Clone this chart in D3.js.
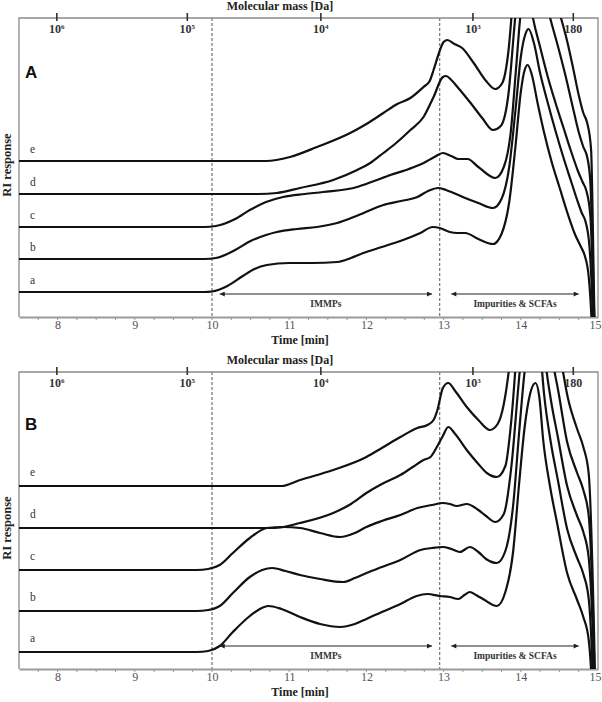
<!DOCTYPE html>
<html><head><meta charset="utf-8">
<script src="https://cdn.jsdelivr.net/npm/d3@7"></script>
<style>body{margin:0;background:#fff}svg{display:block}</style>
</head><body>
<script>
// ---------- DATA ----------
const timeTicks = [8, 9, 10, 11, 12, 13, 14, 15];
const massLabels = ["10|6", "10|5", "10|4", "10|3", "180"];
const massLog = [6, 5, 4, 3, 2.255];
const massTime = [7.99, 9.68, 11.41, 13.38, 14.68]; // elution time of each mass (calibration)
const curveNames = ["a", "b", "c", "d", "e"];
const dashedTimes = [10.0, 12.95];
const regionLabels = ["IMMPs", "Impurities & SCFAs"];
const regionFrom = [10.1, 13.1];
const regionTo = [12.85, 14.75];

// Panel A: RI response (arbitrary units) above each curve's own baseline
const offsetsA = [25, 58, 90, 123, 156];
const A_a = [[7.5,0],[9.9,0],[10.0,0.5],[10.2,6],[10.4,16],[10.55,23],[10.71,27],[11.0,29],[11.3,29],[11.62,30],[11.8,34],[11.96,39],[12.2,45],[12.44,51],[12.7,59],[12.86,65],[12.95,64],[13.08,60],[13.18,59],[13.28,59],[13.45,53],[13.64,48],[13.75,58],[13.85,90],[13.93,145],[14.0,200],[14.05,222],[14.09,227],[14.14,218],[14.22,188],[14.3,160],[14.4,130],[14.5,105],[14.6,80],[14.7,58],[14.78,45],[14.83,36],[14.88,15],[14.93,-60],[14.96,-200]];
const A_b = [[7.5,0],[9.9,0],[10.05,1],[10.3,9],[10.5,18],[10.7,24],[10.84,27],[11.1,30],[11.36,32],[11.62,36],[11.9,44],[12.22,54],[12.45,58],[12.66,62],[12.8,68],[12.93,71],[13.03,69],[13.13,66],[13.28,61],[13.45,56],[13.64,51],[13.75,60],[13.85,92],[13.93,148],[14.0,202],[14.06,225],[14.1,230],[14.17,216],[14.25,186],[14.35,156],[14.45,128],[14.55,102],[14.65,78],[14.73,59],[14.79,46],[14.84,37],[14.89,12],[14.94,-80],[14.97,-200]];
const A_c = [[7.5,0],[9.9,0],[10.05,1],[10.3,8],[10.49,17],[10.7,25],[10.92,30],[11.2,33],[11.44,35],[11.88,40],[12.1,46],[12.31,52],[12.55,58],[12.74,64],[12.88,70],[12.99,74],[13.1,71],[13.19,68],[13.31,68],[13.45,60],[13.67,49],[13.78,60],[13.87,95],[13.94,160],[14.0,215],[14.06,237],[14.1,236],[14.15,212],[14.25,180],[14.35,150],[14.45,124],[14.55,100],[14.65,76],[14.74,56],[14.8,45],[14.85,36],[14.9,12],[14.95,-100],[14.98,-200]];
const A_d = [[7.5,0],[10.6,0],[10.84,1],[11.14,6],[11.57,14],[11.88,24],[12.05,31],[12.22,41],[12.4,52],[12.57,64],[12.74,77],[12.87,97],[12.99,117],[13.03,118],[13.1,114],[13.19,106],[13.35,91],[13.5,76],[13.64,64],[13.74,68],[13.84,100],[13.92,170],[14.0,235],[14.07,262],[14.12,258],[14.2,232],[14.3,200],[14.38,176],[14.48,148],[14.58,118],[14.67,88],[14.75,62],[14.81,47],[14.86,37],[14.9,13],[14.95,-120],[14.98,-220]];
const A_e = [[7.5,0],[10.7,0],[11.01,4],[11.36,14],[11.79,28],[12.0,37],[12.22,48],[12.4,57],[12.57,63],[12.74,74],[12.82,80],[12.87,91],[12.94,108],[13.0,119],[13.05,121],[13.14,117],[13.24,113],[13.39,98],[13.55,80],[13.67,72],[13.76,78],[13.84,110],[13.92,185],[14.0,255],[14.07,285],[14.12,282],[14.2,250],[14.3,208],[14.42,168],[14.52,143],[14.6,120],[14.68,92],[14.75,66],[14.81,48],[14.86,38],[14.91,12],[14.95,-140],[14.98,-250]];

// Panel B
const offsetsB = [17, 58, 99, 141, 183];
const B_a = [[7.5,0],[9.8,0],[9.95,1],[10.1,6],[10.27,20],[10.49,36],[10.62,43],[10.73,46],[10.9,43],[11.14,35],[11.4,28],[11.66,25],[11.85,28],[12.0,33],[12.2,40],[12.44,48],[12.65,56],[12.79,58],[12.95,56],[13.08,55],[13.19,53],[13.27,57],[13.34,60],[13.42,57],[13.51,53],[13.69,46],[13.8,60],[13.9,100],[13.98,170],[14.05,225],[14.12,258],[14.19,269],[14.24,255],[14.29,212],[14.38,165],[14.47,129],[14.6,79],[14.73,52],[14.81,35],[14.88,12],[14.94,-80],[14.97,-200]];
const B_b = [[7.5,0],[9.8,0],[9.95,1],[10.1,5],[10.27,18],[10.49,34],[10.65,41],[10.78,43],[10.95,40],[11.14,36],[11.4,32],[11.7,29],[11.85,33],[12.0,38],[12.2,44],[12.44,51],[12.7,61],[12.85,63],[12.99,64],[13.1,62],[13.21,59],[13.34,64],[13.45,59],[13.55,52],[13.69,48],[13.8,60],[13.9,105],[13.98,180],[14.05,240],[14.12,275],[14.19,285],[14.25,262],[14.3,218],[14.39,168],[14.48,131],[14.6,82],[14.73,53],[14.81,37],[14.88,12],[14.94,-90],[14.97,-200]];
const B_c = [[7.5,0],[9.8,0],[9.95,1],[10.1,5],[10.27,17],[10.49,32],[10.71,42],[10.92,43],[11.14,42],[11.4,37],[11.66,33],[11.85,37],[12.0,43],[12.2,49],[12.44,55],[12.66,62],[12.85,65],[12.99,67],[13.08,66],[13.17,64],[13.3,66],[13.45,60],[13.55,54],[13.67,48],[13.78,56],[13.88,105],[13.97,185],[14.05,250],[14.12,290],[14.19,300],[14.25,272],[14.3,222],[14.39,170],[14.48,133],[14.6,84],[14.73,54],[14.81,38],[14.88,12],[14.95,-110],[14.98,-220]];
const B_d = [[7.5,0],[10.8,0],[11.14,5],[11.57,15],[11.8,24],[12.0,35],[12.2,44],[12.44,53],[12.6,61],[12.74,68],[12.83,71],[12.92,82],[12.99,92],[13.06,101],[13.15,94],[13.3,78],[13.45,64],[13.56,55],[13.69,51],[13.8,62],[13.88,110],[13.96,190],[14.04,260],[14.12,305],[14.19,312],[14.25,282],[14.31,228],[14.4,173],[14.49,135],[14.6,86],[14.73,55],[14.81,38],[14.88,12],[14.95,-130],[14.98,-240]];
const B_e = [[7.5,0],[10.9,0],[11.14,6],[11.57,16],[12.0,29],[12.2,38],[12.44,49],[12.66,58],[12.79,61],[12.87,66],[12.92,76],[12.99,98],[13.06,103],[13.15,95],[13.3,79],[13.45,66],[13.6,56],[13.7,62],[13.78,82],[13.86,125],[13.95,200],[14.04,270],[14.12,315],[14.19,322],[14.25,292],[14.32,235],[14.42,175],[14.5,136],[14.61,88],[14.73,57],[14.81,39],[14.88,12],[14.95,-150],[14.98,-260]];

const seriesA = [A_a, A_b, A_c, A_d, A_e];
const seriesB = [B_a, B_b, B_c, B_d, B_e];

// ---------- DRAW ----------
const W = 602, H = 702;
const svg = d3.select("body").append("svg").attr("width", W).attr("height", H);
const serif = "'Liberation Serif','Times New Roman',serif";
const sans = "'Liberation Sans',Arial,sans-serif";

const defs = svg.append("defs");
defs.append("marker").attr("id","arrEnd").attr("viewBox","0 0 10 10").attr("refX",10).attr("refY",5)
  .attr("markerWidth",7).attr("markerHeight",5).attr("markerUnits","userSpaceOnUse").attr("orient","auto")
  .append("path").attr("d","M0,0L10,5L0,10Z").attr("fill","#222");
defs.append("marker").attr("id","arrStart").attr("viewBox","0 0 10 10").attr("refX",0).attr("refY",5)
  .attr("markerWidth",7).attr("markerHeight",5).attr("markerUnits","userSpaceOnUse").attr("orient","auto")
  .append("path").attr("d","M10,0L0,5L10,10Z").attr("fill","#222");

const x = d3.scaleLinear().domain([7.5, 15]).range([19, 598]);
const massToTime = d3.scaleLinear().domain(massLog).range(massTime);

function drawPanel(opt) {
  const {top, bottom, letter, letterY, offsets, series, labelDy, riY, id} = opt;
  const g = svg.append("g");
  const y = d3.scaleLinear().domain([0, bottom - top]).range([bottom, top]);

  defs.append("clipPath").attr("id", "clip" + id).append("rect")
    .attr("x", x.range()[0]).attr("y", top).attr("width", x.range()[1] - x.range()[0]).attr("height", bottom - top);

  // dashed verticals
  g.selectAll(".dash").data(dashedTimes).join("line")
    .attr("x1", d => x(d)).attr("x2", d => x(d)).attr("y1", top).attr("y2", bottom)
    .attr("stroke", "#555").attr("stroke-width", 1).attr("stroke-dasharray", "3,2");

  // frame (top, left, right)
  g.append("path").attr("d", `M${x.range()[0]},${bottom}V${top}H${x.range()[1]}V${bottom}`)
    .attr("fill", "none").attr("stroke", "#8a8a8a").attr("stroke-width", 1.3);

  // bottom axis
  const ax = d3.axisBottom(x).tickValues(timeTicks).tickSize(0).tickPadding(3).tickFormat(d3.format("d"));
  const axG = g.append("g").attr("transform", `translate(0,${bottom})`).call(ax);
  axG.select(".domain").attr("stroke", "#9a9a9a").attr("stroke-width", 2.2);
  axG.selectAll("text").attr("font-family", serif).attr("font-size", 12).attr("fill", "#555")
    .attr("dx", d => d === 15 ? -3 : 0);
  const minor = d3.range(7.75, 15, 0.25);
  g.selectAll(".minor").data(minor).join("line")
    .attr("x1", d => x(d)).attr("x2", d => x(d)).attr("y1", bottom + 1).attr("y2", bottom + 3)
    .attr("stroke", "#999").attr("stroke-width", 1);
  g.append("text").attr("x", 300).attr("y", bottom + 27).attr("text-anchor", "middle")
    .attr("font-family", serif).attr("font-weight", "bold").attr("font-size", 12).attr("fill", "#222").text("Time [min]");

  // top mass axis
  g.append("text").attr("x", 280).attr("y", top - 8).attr("text-anchor", "middle")
    .attr("font-family", serif).attr("font-weight", "bold").attr("font-size", 12).attr("fill", "#222").text("Molecular mass [Da]");
  massLabels.forEach((lab, i) => {
    const px = x(massToTime(massLog[i]));
    g.append("line").attr("x1", px).attr("x2", px).attr("y1", top - 5).attr("y2", top + 3)
      .attr("stroke", "#333").attr("stroke-width", 1.6);
    const parts = lab.split("|");
    const t = g.append("text").attr("x", px).attr("y", top + 15).attr("text-anchor", "middle")
      .attr("font-family", serif).attr("font-weight", "bold").attr("font-size", 12).attr("fill", "#333");
    t.append("tspan").text(parts[0]);
    if (parts[1]) t.append("tspan").attr("dy", -4).attr("font-size", 7).text(parts[1]);
  });

  // curves
  const line = d3.line().x(d => x(d[0])).y(d => d[1]).curve(d3.curveMonotoneX);
  const cg = g.append("g").attr("clip-path", `url(#clip${id})`);
  series.forEach((s, i) => {
    const pts = s.map(p => [p[0], y(p[1] + offsets[i])]);
    cg.append("path").attr("d", line(pts)).attr("fill", "none")
      .attr("stroke", "#111").attr("stroke-width", 2.2).attr("stroke-linejoin", "round");
    g.append("text").attr("x", 30).attr("y", y(offsets[i]) + labelDy)
      .attr("font-family", serif).attr("font-size", 11.5).attr("fill", "#333").text(curveNames[i]);
  });

  // region arrows
  regionLabels.forEach((lab, i) => {
    g.append("line").attr("x1", x(regionFrom[i])).attr("x2", x(regionTo[i]))
      .attr("y1", bottom - 23).attr("y2", bottom - 23).attr("stroke", "#222").attr("stroke-width", 1)
      .attr("marker-start", "url(#arrStart)").attr("marker-end", "url(#arrEnd)");
    g.append("text").attr("x", (x(regionFrom[i]) + x(regionTo[i])) / 2).attr("y", bottom - 10)
      .attr("text-anchor", "middle").attr("font-family", serif).attr("font-weight", "bold")
      .attr("font-size", 9.5).attr("fill", "#333").text(lab);
  });

  // panel letter and y title
  g.append("text").attr("x", 25).attr("y", letterY).attr("font-family", sans).attr("font-weight", "bold")
    .attr("font-size", 17).attr("fill", "#111").text(letter);
  g.append("text").attr("transform", `translate(11,${riY}) rotate(-90)`).attr("text-anchor", "middle")
    .attr("font-family", serif).attr("font-weight", "bold").attr("font-size", 12.5).attr("fill", "#222").text("RI response");
}

drawPanel({id: "A", top: 18, bottom: 317, letter: "A", letterY: 78, offsets: offsetsA, series: seriesA, labelDy: -8, riY: 165});
drawPanel({id: "B", top: 372, bottom: 669, letter: "B", letterY: 430, offsets: offsetsB, series: seriesB, labelDy: -10, riY: 528});
</script>
</body></html>
